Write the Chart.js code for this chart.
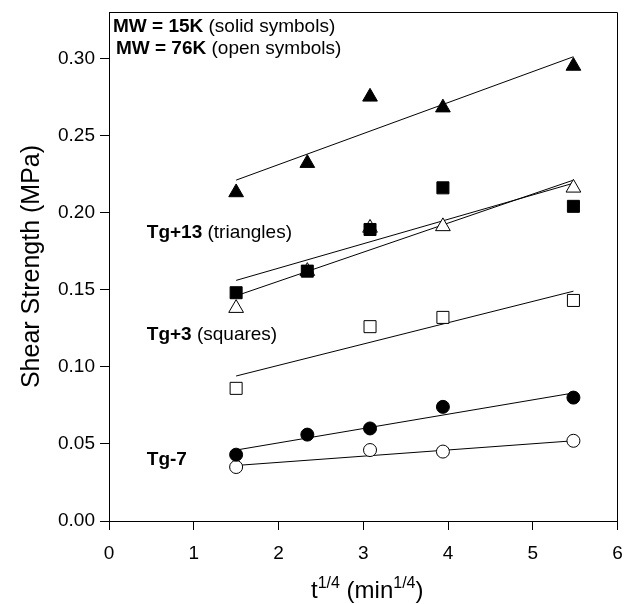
<!DOCTYPE html>
<html>
<head>
<meta charset="utf-8">
<script src="https://cdn.jsdelivr.net/npm/chart.js@4"></script>
<style>
  html, body { margin: 0; padding: 0; background: #fff; }
  #wrap { width: 627px; height: 604px; }
</style>
</head>
<body>
<div id="wrap"><canvas id="c" width="627" height="604"></canvas></div>
<script>
// ---- data ----
const xVals   = [1.50, 2.34, 3.08, 3.94, 5.48];           // t^(1/4)
const tri15K  = [0.213, 0.232, 0.275, 0.268, 0.295];      // Tg+13, solid triangles
const tri76K  = [0.138, 0.162, 0.190, 0.191, 0.216];      // Tg+13, open triangles
const sq15K   = [0.148, 0.162, 0.189, 0.216, 0.204];      // Tg+3, solid squares
const sq76K   = [0.086, null,  0.126, 0.132, 0.143];      // Tg+3, open squares
const circ15K = [0.043, 0.056, 0.060, 0.074, 0.080];      // Tg-7, solid circles
const circ76K = [0.035, null,  0.046, 0.045, 0.052];      // Tg-7, open circles

// fitted lines (start, end)
const fitX       = [1.50, 5.48];
const fitTri15K  = [0.221, 0.301];
const fitTri76K  = [0.146, 0.221];
const fitSq15K   = [0.156, 0.219];
const fitSq76K   = [0.094, 0.149];
const fitCirc15K = [0.046, 0.083];
const fitCirc76K = [0.036, 0.052];

const xTicks = [0, 1, 2, 3, 4, 5, 6];
const yTicks = [0.00, 0.05, 0.10, 0.15, 0.20, 0.25, 0.30];

// annotation texts: [bold part, regular part, x (data), y (data, text middle)]
const notes = [
  ['MW = 15K', ' (solid symbols)', 0.047, 0.3205],
  ['MW = 76K', ' (open symbols)', 0.082, 0.3060],
  ['Tg+13', ' (triangles)', 0.446, 0.1866],
  ['Tg+3', ' (squares)', 0.446, 0.1205],
  ['Tg-7', '', 0.446, 0.0400]
];

const FONT = '"Liberation Sans", Arial, Helvetica, sans-serif';

function pts(ys) {
  const out = [];
  ys.forEach((y, i) => { if (y !== null) out.push({x: xVals[i], y: y}); });
  return out;
}
function fit(ys) { return [{x: fitX[0], y: ys[0]}, {x: fitX[1], y: ys[1]}]; }

function ptsSet(ys, style, radius, filled, order) {
  return {
    type: 'scatter', data: pts(ys), showLine: false,
    pointStyle: style, pointRadius: radius, pointHoverRadius: radius,
    pointBackgroundColor: filled ? '#000' : '#fff',
    pointBorderColor: '#000', pointBorderWidth: 1, order: order
  };
}
function fitSet(ys, order) {
  return {
    type: 'line', data: fit(ys), showLine: true, pointRadius: 0,
    borderColor: '#000', borderWidth: 1, fill: false, order: order
  };
}

const annotPlugin = {
  id: 'annot',
  afterDraw(chart) {
    const ctx = chart.ctx, xs = chart.scales.x, ys = chart.scales.y, a = chart.chartArea;
    ctx.save();
    // frame top & right
    ctx.strokeStyle = '#000'; ctx.lineWidth = 1;
    ctx.beginPath();
    ctx.moveTo(Math.round(a.left) + 0.5, Math.round(a.top) + 0.5);
    ctx.lineTo(Math.round(a.right) - 0.5, Math.round(a.top) + 0.5);
    ctx.lineTo(Math.round(a.right) - 0.5, Math.round(a.bottom));
    ctx.stroke();
    // annotations
    ctx.fillStyle = '#000';
    ctx.textBaseline = 'middle';
    ctx.textAlign = 'left';
    notes.forEach(n => {
      let px = xs.getPixelForValue(n[2]);
      const py = ys.getPixelForValue(n[3]);
      ctx.font = 'bold 19px ' + FONT;
      ctx.fillText(n[0], px, py);
      px += ctx.measureText(n[0]).width;
      ctx.font = '19px ' + FONT;
      ctx.fillText(n[1], px, py);
    });
    // x axis title with superscripts
    const parts = [['t', 24, 0], ['1/4', 16, -10], [' (min', 24, 0], ['1/4', 16, -10], [')', 24, 0]];
    let total = 0;
    parts.forEach(p => { ctx.font = p[1] + 'px ' + FONT; total += ctx.measureText(p[0]).width; });
    let tx = (a.left + a.right) / 2 + 4 - total / 2;
    const base = 598;
    ctx.textBaseline = 'alphabetic';
    parts.forEach(p => {
      ctx.font = p[1] + 'px ' + FONT;
      ctx.fillText(p[0], tx, base + p[2]);
      tx += ctx.measureText(p[0]).width;
    });
    ctx.restore();
  }
};

new Chart(document.getElementById('c'), {
  data: {
    datasets: [
      fitSet(fitTri15K, 10), fitSet(fitTri76K, 10), fitSet(fitSq15K, 10),
      fitSet(fitSq76K, 10), fitSet(fitCirc15K, 10), fitSet(fitCirc76K, 10),
      ptsSet(tri76K, 'triangle', 8.5, false, 5),
      ptsSet(sq76K, 'rect', 8.5, false, 4),
      ptsSet(circ76K, 'circle', 6.5, false, 4),
      ptsSet(tri15K, 'triangle', 8.5, true, 2),
      ptsSet(sq15K, 'rect', 8.5, true, 1),
      ptsSet(circ15K, 'circle', 6.5, true, 1)
    ]
  },
  options: {
    responsive: false,
    animation: false,
    devicePixelRatio: 1,
    layout: { padding: { top: 12, right: 7, left: 0, bottom: 0 } },
    plugins: { legend: { display: false }, tooltip: { enabled: false } },
    events: [],
    scales: {
      x: {
        type: 'linear', position: 'bottom', min: 0, max: 6,
        afterBuildTicks(s) { s.ticks = xTicks.map(v => ({value: v})); },
        afterFit(s) { s.height = 83; s.paddingLeft = 0; s.paddingRight = 0; },
        ticks: { color: '#000', font: { size: 19, family: FONT }, padding: 12, callback: v => String(v) },
        grid: { drawOnChartArea: false, drawTicks: true, tickLength: 9, color: '#000', lineWidth: 1 },
        border: { display: true, color: '#000', width: 1 }
      },
      y: {
        type: 'linear', position: 'left', min: 0, max: 0.33,
        afterBuildTicks(s) { s.ticks = yTicks.map(v => ({value: v})); },
        afterFit(s) { s.width = 109; s.paddingTop = 0; s.paddingBottom = 0; },
        ticks: { color: '#000', font: { size: 19, family: FONT }, padding: 5, callback: v => Number(v).toFixed(2) },
        grid: { drawOnChartArea: false, drawTicks: true, tickLength: 9, color: '#000', lineWidth: 1 },
        border: { display: true, color: '#000', width: 1 },
        title: { display: true, text: 'Shear Strength (MPa)', color: '#000',
                 font: { size: 25, family: FONT, weight: 'normal' }, padding: { top: 17, bottom: 0 } }
      }
    }
  },
  plugins: [annotPlugin]
});
</script>
</body>
</html>
